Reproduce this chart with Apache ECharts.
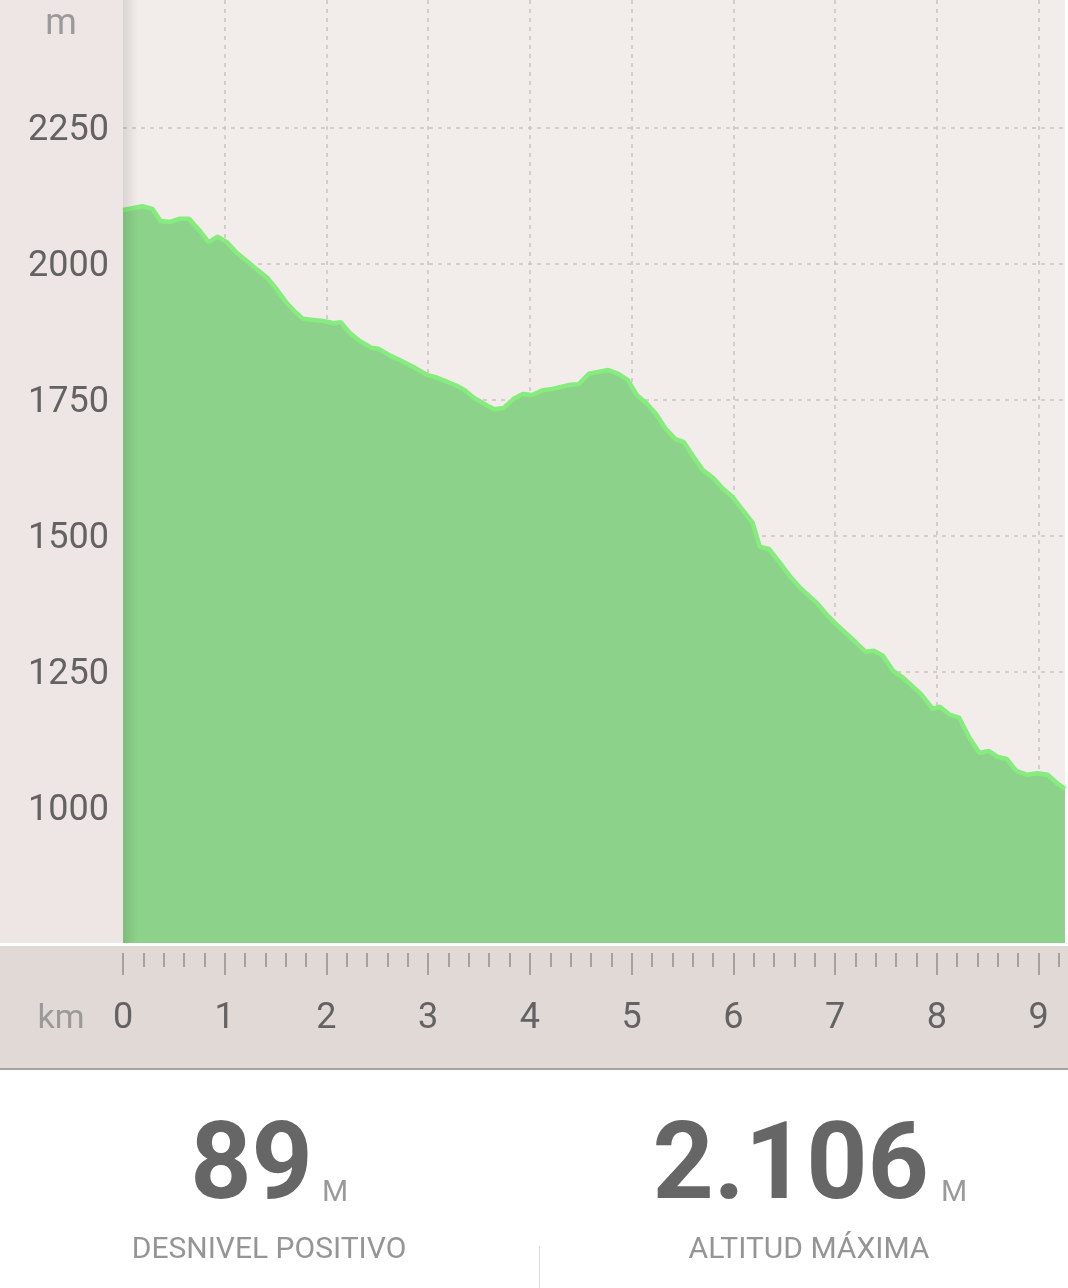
<!DOCTYPE html>
<html><head><meta charset="utf-8">
<script src="https://cdn.jsdelivr.net/npm/echarts@6/dist/echarts.min.js"></script>
<style>html,body{margin:0;padding:0;background:#fff;}#c{width:1068px;height:1288px;}</style>
</head><body><div id="c"></div>
<script>
const distanceKm = [0,0.19,0.29,0.37,0.46,0.56,0.65,0.75,0.84,0.93,
1.02,1.12,1.22,1.32,1.42,1.50,1.61,1.69,1.77,1.87,
1.97,2.07,2.14,2.23,2.33,2.44,2.51,2.63,2.70,2.85,
2.99,3.07,3.19,3.28,3.36,3.44,3.54,3.65,3.74,3.84,
3.93,4.02,4.13,4.22,4.40,4.48,4.58,4.66,4.77,4.87,
4.96,5.05,5.15,5.24,5.33,5.43,5.51,5.61,5.70,5.80,
5.89,5.99,6.09,6.19,6.26,6.35,6.46,6.56,6.66,6.82,
6.92,7.02,7.20,7.30,7.38,7.47,7.57,7.67,7.84,7.96,
8.03,8.13,8.22,8.32,8.42,8.51,8.60,8.69,8.78,8.89,
8.99,9.09,9.18,9.26];
const altitudeM = [2099,2106,2101,2079,2077,2083,2083,2062,2040,2050,
2040,2020,2005,1989,1974,1956,1928,1912,1899,1897,
1895,1891,1893,1873,1858,1846,1844,1831,1825,1811,
1796,1792,1783,1776,1768,1755,1744,1733,1735,1752,
1761,1759,1768,1770,1778,1779,1798,1801,1805,1798,
1787,1759,1743,1724,1698,1678,1673,1645,1621,1607,
1588,1572,1548,1524,1480,1476,1450,1425,1404,1377,
1355,1336,1305,1287,1289,1280,1252,1239,1210,1182,
1186,1171,1166,1129,1101,1105,1094,1090,1068,1061,
1064,1061,1046,1035];
const yTickLabels = [1000,1250,1500,1750,2000,2250];
const xTickLabels = [0,1,2,3,4,5,6,7,8,9];
const statGain = '89';
const statGainLabel = 'DESNIVEL POSITIVO';
const statMax = '2.106';
const statMaxLabel = 'ALTITUD MÁXIMA';
const statUnit = 'M';

const xMinor = [];
for (let i = 0; i < 47; i++) { const v = Math.round(i * 2) / 10; if (v <= 9.26 && Math.abs(v - Math.round(v)) > 1e-6) xMinor.push(v); }

const data = distanceKm.map((d, i) => [d, altitudeM[i]]);
const FONT = 'Roboto, "Noto Sans", sans-serif';
const chart = echarts.init(document.getElementById('c'), null, {renderer: 'canvas'});
const xMax = distanceKm[distanceKm.length - 1];

chart.setOption({
  animation: false,
  backgroundColor: 'transparent',
  grid: {left: 123, right: 3, top: 0, bottom: 344, show: true, backgroundColor: '#f2edeb', borderWidth: 0},
  xAxis: [{
    type: 'value', min: 0, max: xMax, position: 'bottom', offset: 9,
    axisLine: {show: false},
    axisTick: {show: true, customValues: xTickLabels, length: 22, lineStyle: {color: '#a6a09e', width: 2}},
    axisLabel: {customValues: xTickLabels, margin: 48, fontSize: 36, color: '#636363', fontFamily: FONT},
    splitLine: {show: true, showMinLine: false, showMaxLine: true, lineStyle: {color: '#c9c4c2', type: [4, 5], width: 1.5}}
  }, {
    type: 'value', min: 0, max: xMax, position: 'bottom', offset: 9,
    axisLine: {show: false},
    axisTick: {show: true, customValues: xMinor, length: 14, lineStyle: {color: '#a6a09e', width: 2}},
    axisLabel: {show: false},
    splitLine: {show: false}
  }],
  yAxis: {
    type: 'value', min: 750, max: 2485,
    axisLine: {show: false}, axisTick: {show: false, customValues: yTickLabels},
    axisLabel: {customValues: yTickLabels, margin: 14, fontSize: 36, color: '#636363', fontFamily: FONT,
      formatter: v => '{a|' + v + '}',
      rich: {a: {fontSize: 36, color: '#636363', fontFamily: FONT, padding: [6, 0, 0, 0]}}},
    splitLine: {show: true, showMinLine: true, showMaxLine: true, lineStyle: {color: '#c9c4c2', type: [4, 5], width: 1.5}}
  },
  series: [{
    type: 'line', data: data, symbol: 'none', smooth: false, z: 3,
    lineStyle: {color: '#86ec7e', width: 4.5},
    areaStyle: {color: '#8cd28a', opacity: 1}
  }],
  graphic: [
    {type: 'rect', z: -10, silent: true, shape: {x: 0, y: 0, width: 123, height: 946}, style: {fill: '#ede6e4'}},
    {type: 'rect', z: -10, silent: true, shape: {x: 0, y: 946, width: 1068, height: 122}, style: {fill: '#e1d9d5'}},
    {type: 'rect', z: 100, silent: true, shape: {x: 0, y: 943, width: 1068, height: 3}, style: {fill: '#ffffff'}},
    {type: 'rect', z: 100, silent: true, shape: {x: 0, y: 1068, width: 1068, height: 2}, style: {fill: '#a8a2a0'}},
    {type: 'rect', z: 100, silent: true, shape: {x: 123, y: 0, width: 15, height: 943},
      style: {fill: new echarts.graphic.LinearGradient(0, 0, 1, 0, [{offset: 0, color: 'rgba(0,0,0,0.1)'}, {offset: 1, color: 'rgba(0,0,0,0)'}])}},
    {type: 'text', z: 100, style: {text: 'm', x: 61, y: 25, align: 'center', verticalAlign: 'middle', fontSize: 36, fill: '#9a9a9a', fontFamily: FONT}},
    {type: 'text', z: 100, style: {text: 'km', x: 61, y: 1019, align: 'center', verticalAlign: 'middle', fontSize: 34, fill: '#9a9a9a', fontFamily: FONT}},
    {type: 'text', z: 100, style: {text: statGain, x: 313, y: 1171, align: 'right', verticalAlign: 'middle', fontSize: 107, fontWeight: 'bold', fill: '#666666', fontFamily: FONT}},
    {type: 'text', z: 100, style: {text: statUnit, x: 322, y: 1193, align: 'left', verticalAlign: 'middle', fontSize: 30, fill: '#9a9a9a', fontFamily: FONT}},
    {type: 'text', z: 100, style: {text: statGainLabel, x: 269, y: 1250, align: 'center', verticalAlign: 'middle', fontSize: 30, fill: '#959595', fontFamily: FONT}},
    {type: 'text', z: 100, style: {text: statMax, x: 929, y: 1171, align: 'right', verticalAlign: 'middle', fontSize: 107, fontWeight: 'bold', fill: '#666666', fontFamily: FONT}},
    {type: 'text', z: 100, style: {text: statUnit, x: 941, y: 1193, align: 'left', verticalAlign: 'middle', fontSize: 30, fill: '#9a9a9a', fontFamily: FONT}},
    {type: 'text', z: 100, style: {text: statMaxLabel, x: 809, y: 1250, align: 'center', verticalAlign: 'middle', fontSize: 30, fill: '#959595', fontFamily: FONT}},
    {type: 'rect', z: 100, silent: true, shape: {x: 539, y: 1246, width: 1, height: 42}, style: {fill: '#dddddd'}}
  ]
});
</script></body></html>
